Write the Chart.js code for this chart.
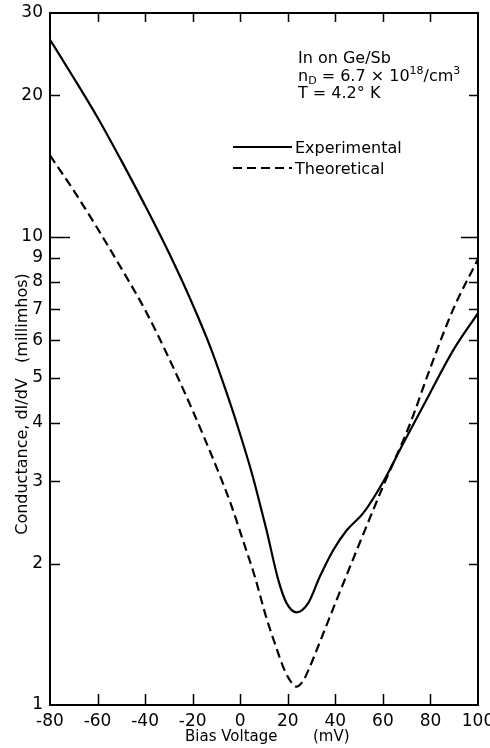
<!DOCTYPE html>
<html>
<head>
<meta charset="utf-8">
<script src="https://cdn.jsdelivr.net/npm/chart.js@4/dist/chart.umd.min.js"></script>
<style>
html,body{margin:0;padding:0;background:#fff;}
#wrap{position:relative;width:490px;height:748px;}
</style>
</head>
<body>
<div id="wrap"><canvas id="c" width="490" height="748"></canvas></div>
<script>
// ---- data ----
const expBias = [-80,-70,-60,-50,-40,-30,-20,-12,-8,-4,0,4,7,11,16,19.5,23.7,28.6,33.5,39.1,44.8,51.8,60.2,68.6,79.8,89.6,100];
const expCond = [26.3,21.8,17.95,14.52,11.64,9.23,7.16,5.71,5.01,4.37,3.78,3.24,2.85,2.37,1.85,1.65,1.577,1.65,1.88,2.14,2.36,2.57,3.00,3.62,4.63,5.72,6.86];

const theoBias = [-80,-70,-60,-50,-40,-30,-20,-10,-4,2,6,11,15,18,21,23.7,26.5,29.3,33,40,49,60.2,71.4,79.8,89.6,100];
const theoCond = [14.9,12.53,10.40,8.55,6.97,5.50,4.25,3.22,2.69,2.18,1.89,1.535,1.334,1.208,1.127,1.094,1.127,1.207,1.343,1.65,2.14,2.94,3.98,5.22,7.0,8.95];

const xTicks = [-80,-60,-40,-20,0,20,40,60,80,100];
const yTicks = [1,2,3,4,5,6,7,8,9,10,20,30];
const yLabels = ['1','2','3','4','5','6','7','8','9','10','20','30'];

const seriesNames = ['Experimental','Theoretical'];
const xTitle = ['Bias Voltage','(mV)'];
const yTitle = 'Conductance, dI/dV   (millimhos)';

const FONT = 'DejaVu Sans';

const framePlugin = {
  id: 'frame',
  afterDraw(chart) {
    const ctx = chart.ctx;
    const a = chart.chartArea;
    const xs = chart.scales.x, ys = chart.scales.y;
    ctx.save();
    ctx.strokeStyle = '#000';
    ctx.lineWidth = 2;
    ctx.strokeRect(a.left, a.top, a.right - a.left, a.bottom - a.top);
    ctx.lineWidth = 1.5;
    ctx.beginPath();
    xTicks.forEach(v => {
      if (v === xTicks[0] || v === xTicks[xTicks.length-1]) return;
      const px = Math.round(xs.getPixelForValue(v)) + 0.5;
      ctx.moveTo(px, a.bottom); ctx.lineTo(px, a.bottom - 11);
      ctx.moveTo(px, a.top); ctx.lineTo(px, a.top + 9);
    });
    yTicks.forEach(v => {
      if (v === yTicks[0] || v === yTicks[yTicks.length-1]) return;
      const py = Math.round(ys.getPixelForValue(v)) + 0.5;
      const longL = v === 10 ? 20 : 10;
      const longR = v === 10 ? 17 : 9;
      ctx.moveTo(a.left, py); ctx.lineTo(a.left + longL, py);
      ctx.moveTo(a.right, py); ctx.lineTo(a.right - longR, py);
    });
    ctx.stroke();

    ctx.fillStyle = '#000';
    ctx.font = '15px "' + FONT + '"';
    ctx.textBaseline = 'alphabetic';
    ctx.textAlign = 'left';
    ctx.fillText(xTitle[0], 185, 741);
    ctx.fillText(xTitle[1], 313, 741);
    ctx.save();
    ctx.translate(27, 404);
    ctx.rotate(-Math.PI/2);
    ctx.textAlign = 'center';
    ctx.font = '16px "' + FONT + '"';
    ctx.fillText(yTitle, 0, 0);
    ctx.restore();

    ctx.font = '16px "' + FONT + '"';
    ctx.textAlign = 'left';
    ctx.fillText('In on Ge/Sb', 298, 63);
    let x = 298, y = 81;
    const put = (t, size, dy) => {
      ctx.font = size + 'px "' + FONT + '"';
      ctx.fillText(t, x, y + dy);
      x += ctx.measureText(t).width;
    };
    put('n', 16, 0); put('D', 11, 3); put(' = 6.7 × 10', 16, 0); put('18', 11, -7); put('/cm', 16, 0); put('3', 11, -7);
    ctx.font = '16px "' + FONT + '"';
    ctx.fillText('T = 4.2° K', 298, 98);

    ctx.lineWidth = 2.2;
    ctx.beginPath(); ctx.moveTo(233, 147); ctx.lineTo(292, 147); ctx.stroke();
    ctx.setLineDash([9,5]);
    ctx.beginPath(); ctx.moveTo(233, 168); ctx.lineTo(292, 168); ctx.stroke();
    ctx.setLineDash([]);
    ctx.fillText(seriesNames[0], 295, 153);
    ctx.fillText(seriesNames[1], 295, 174);
    ctx.restore();
  }
};

const toPts = (xs, ys) => xs.map((v, i) => ({x: v, y: ys[i]}));

new Chart(document.getElementById('c'), {
  type: 'line',
  data: {
    datasets: [
      { label: seriesNames[0], data: toPts(expBias, expCond), borderColor: '#000', borderWidth: 2.2,
        pointRadius: 0, cubicInterpolationMode: 'monotone', fill: false },
      { label: seriesNames[1], data: toPts(theoBias, theoCond), borderColor: '#000', borderWidth: 2.2,
        borderDash: [9,5], pointRadius: 0, cubicInterpolationMode: 'monotone', fill: false }
    ]
  },
  options: {
    responsive: false,
    animation: false,
    devicePixelRatio: 1,
    layout: { padding: { top: 13, right: 12, left: 0, bottom: 0 } },
    plugins: { legend: { display: false }, tooltip: { enabled: false } },
    scales: {
      x: {
        type: 'linear', min: -80, max: 100,
        afterBuildTicks: s => { s.ticks = xTicks.map(v => ({value: v})); },
        afterFit: s => { s.height = 43; s.paddingLeft = 0; s.paddingRight = 0; },
        grid: { display: false, drawTicks: false },
        border: { display: false },
        ticks: { color: '#000', font: { family: FONT, size: 17 }, padding: 6, maxRotation: 0, autoSkip: false,
                 callback: v => String(v) }
      },
      y: {
        type: 'logarithmic', min: 1, max: 30,
        afterBuildTicks: s => { s.ticks = yTicks.map(v => ({value: v})); },
        afterFit: s => { s.width = 50; s.paddingTop = 0; s.paddingBottom = 0; },
        grid: { display: false, drawTicks: false },
        border: { display: false },
        ticks: { color: '#000', font: { family: FONT, size: 17 }, padding: 7, autoSkip: false,
                 callback: (v) => { const i = yTicks.indexOf(v); return i >= 0 ? yLabels[i] : ''; } }
      }
    }
  },
  plugins: [framePlugin]
});
</script>
</body>
</html>
